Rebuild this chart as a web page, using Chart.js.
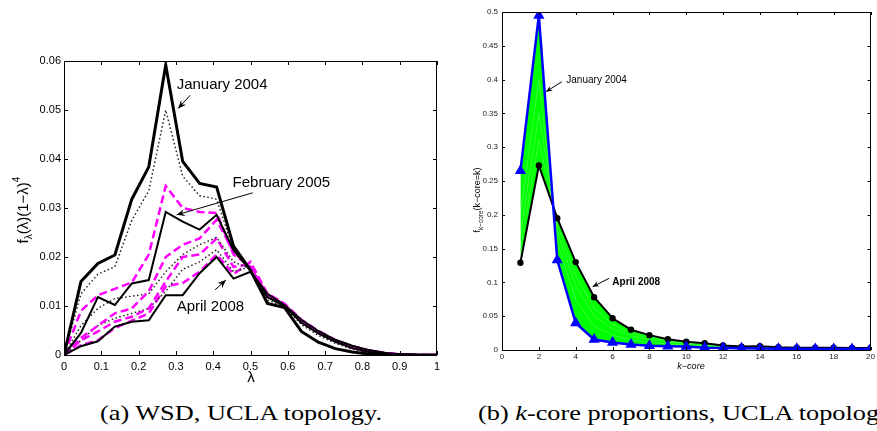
<!DOCTYPE html>
<html>
<head>
<meta charset="utf-8">
<script src="https://cdn.jsdelivr.net/npm/chart.js@4.4.0/dist/chart.umd.min.js"></script>
<style>
  html, body { margin: 0; padding: 0; background: #fff; }
  body { width: 877px; height: 431px; position: relative; overflow: hidden; }
  .box { position: absolute; }
  #boxA { left: 0; top: 0; width: 450px; height: 395px; }
  #boxB { left: 455px; top: 0; width: 422px; height: 395px; }
  .cap { position: absolute; font-family: 'Liberation Serif', 'Times New Roman', serif; font-size: 21px;
         white-space: nowrap; transform-origin: 0 50%; color: #000; line-height: 1; }
</style>
</head>
<body>
<div class="box" id="boxA"><canvas id="chartA"></canvas></div>
<div class="box" id="boxB"><canvas id="chartB"></canvas></div>
<div class="cap" id="capA">(a) WSD, <span id="uA">UCLA</span> topology.</div>
<div class="cap" id="capB">(b) <i>k</i>-core proportions, <span id="uB">UCLA</span> topology.</div>
<script>
// --- Data: (a) WSD ---
const lambdaVals = [0, 0.0455, 0.0909, 0.1364, 0.1818, 0.2273, 0.2727, 0.3182, 0.3636, 0.4091, 0.4545, 0.5,
                    0.5455, 0.5909, 0.6364, 0.6818, 0.7273, 0.7727, 0.8182, 0.8636, 0.9091, 0.9545, 1];
const wsdJan2004 = [0, 0.0150, 0.0187, 0.0204, 0.0318, 0.0384, 0.0592, 0.0395, 0.0350, 0.0343, 0.0222, 0.0173,
                    0.0105, 0.0097, 0.0048, 0.0026, 0.0013, 0.0006, 0.0002, 0.0001, 0, 0, 0];
const wsdFeb2005 = [0, 0.0045, 0.0118, 0.0102, 0.0146, 0.0153, 0.0292, 0.0272, 0.0256, 0.0286, 0.0214, 0.0172,
                    0.0118, 0.0100, 0.0066, 0.0044, 0.0027, 0.0014, 0.0006, 0.0002, 0.0001, 0, 0];
const wsdApr2008 = [0, 0.0018, 0.0028, 0.0058, 0.0068, 0.0071, 0.0122, 0.0122, 0.0167, 0.0200, 0.0156, 0.0170,
                    0.0125, 0.0102, 0.0072, 0.0049, 0.0031, 0.0019, 0.0010, 0.0004, 0.0001, 0, 0];
const wsdDot1 = [0, 0.0125, 0.0165, 0.0180, 0.0275, 0.0335, 0.0500, 0.0365, 0.0325, 0.0318, 0.0215, 0.0173,
                 0.0112, 0.0099, 0.0062, 0.0040, 0.0024, 0.0012, 0.0005, 0.0002, 0.0001, 0, 0];
const wsdDot2 = [0, 0.0060, 0.0095, 0.0115, 0.0120, 0.0125, 0.0170, 0.0205, 0.0225, 0.0240, 0.0190, 0.0176,
                 0.0120, 0.0101, 0.0068, 0.0046, 0.0029, 0.0016, 0.0008, 0.0003, 0.0001, 0, 0];
const wsdDot3 = [0, 0.0030, 0.0060, 0.0075, 0.0085, 0.0095, 0.0130, 0.0175, 0.0190, 0.0215, 0.0170, 0.0180,
                 0.0122, 0.0102, 0.0070, 0.0047, 0.0030, 0.0017, 0.0009, 0.0003, 0.0001, 0, 0];
const wsdMag1 = [0, 0.0090, 0.0122, 0.0135, 0.0148, 0.0205, 0.0345, 0.0300, 0.0292, 0.0290, 0.0205, 0.0180,
                 0.0121, 0.0102, 0.0068, 0.0045, 0.0028, 0.0015, 0.0007, 0.0003, 0.0001, 0, 0];
const wsdMag2 = [0, 0.0035, 0.0060, 0.0085, 0.0095, 0.0130, 0.0200, 0.0225, 0.0238, 0.0276, 0.0210, 0.0178,
                 0.0123, 0.0103, 0.0069, 0.0046, 0.0029, 0.0016, 0.0008, 0.0003, 0.0001, 0, 0];
const wsdMag3 = [0, 0.0030, 0.0048, 0.0068, 0.0078, 0.0095, 0.0150, 0.0200, 0.0205, 0.0238, 0.0180, 0.0185,
                 0.0124, 0.0104, 0.0071, 0.0048, 0.0030, 0.0017, 0.0009, 0.0003, 0.0001, 0, 0];
const wsdMag4 = [0, 0.0020, 0.0030, 0.0055, 0.0070, 0.0085, 0.0140, 0.0147, 0.0170, 0.0205, 0.0165, 0.0190,
                 0.0125, 0.0105, 0.0072, 0.0049, 0.0031, 0.0018, 0.0009, 0.0004, 0.0001, 0, 0];

// --- Data: (b) k-core proportions ---
const kVals = [1, 2, 3, 4, 5, 6, 7, 8, 9, 10, 11, 12, 13, 14, 15, 16, 17, 18, 19, 20];
const kcoreJan2004 = [0.265, 0.495, 0.133, 0.040, 0.0155, 0.0112, 0.0082, 0.0063, 0.0055, 0.0050,
                      0.0035, 0.0030, 0.0025, 0.0022, 0.0020, 0.0018, 0.0016, 0.0015, 0.0014, 0.0013];
const kcoreApr2008 = [0.129, 0.273, 0.195, 0.130, 0.078, 0.047, 0.030, 0.022, 0.016, 0.0123,
                      0.0099, 0.0066, 0.0050, 0.0055, 0.0040, 0.0035, 0.0035, 0.0033, 0.0030, 0.0030];
const kcoreMid1 = [0.20, 0.40, 0.16, 0.075, 0.035, 0.022, 0.015, 0.011, 0.009, 0.008,
                   0.0065, 0.005, 0.004, 0.004, 0.003, 0.003, 0.0025, 0.0025, 0.0022, 0.002];
const kcoreMid2 = [0.17, 0.35, 0.175, 0.095, 0.050, 0.031, 0.021, 0.015, 0.012, 0.010,
                   0.008, 0.0055, 0.0045, 0.0045, 0.0035, 0.003, 0.003, 0.003, 0.0025, 0.0025];
const kcoreMid3 = [0.15, 0.31, 0.185, 0.110, 0.062, 0.038, 0.025, 0.018, 0.014, 0.011,
                   0.009, 0.006, 0.0048, 0.005, 0.0038, 0.0032, 0.0032, 0.003, 0.0028, 0.0028];

// --- Annotations (data coordinates) ---
const notesA = [
  { text: 'January 2004', x: 0.302, y: 0.0552, tail: [0.338, 0.0530], head: [0.306, 0.0503] },
  { text: 'February 2005', x: 0.452, y: 0.0352, tail: [0.506, 0.0331], head: [0.302, 0.0286] },
  { text: 'April 2008', x: 0.302, y: 0.0099, tail: [0.405, 0.0133], head: [0.434, 0.0153] }
];
const notesB = [
  { text: 'January 2004', x: 3.49, y: 0.3994, tail: [3.25, 0.3969], head: [2.39, 0.3821] },
  { text: 'April 2008', x: 5.99, y: 0.1001, tail: [5.81, 0.106], head: [4.92, 0.0936], bold: true }
];

const SANS = "'Liberation Sans', Arial, Helvetica, sans-serif";
const numLabel = v => String(+Number(v).toFixed(3));

function wsdLine(vals, color, width, dash) {
  return {
    data: lambdaVals.map((x, i) => ({ x: x, y: vals[i] })),
    borderColor: color, borderWidth: width, borderDash: dash || [],
    pointRadius: 0, tension: 0, fill: false
  };
}
function kLine(vals, extra) {
  return Object.assign({ data: kVals.map((k, i) => ({ x: k, y: vals[i] })), tension: 0 }, extra);
}

// draw a row of text pieces (for sub/superscripts), centred at cx, optionally rotated
function drawRuns(ctx, runs, cx, cy, rotate) {
  ctx.save();
  ctx.translate(cx, cy);
  if (rotate) ctx.rotate(-Math.PI / 2);
  let total = 0;
  runs.forEach(r => { ctx.font = r.font; total += ctx.measureText(r.t).width; });
  let x = -total / 2;
  ctx.textBaseline = 'alphabetic';
  ctx.fillStyle = '#000';
  runs.forEach(r => { ctx.font = r.font; ctx.fillText(r.t, x, r.dy || 0); x += ctx.measureText(r.t).width; });
  ctx.restore();
}

function framePlugin(opt) {
  return {
    id: 'frame' + opt.name,
    afterDraw(chart) {
      const { ctx, chartArea: a, scales } = chart;
      const L = opt.tickLen;
      ctx.save();
      ctx.strokeStyle = '#000';
      ctx.lineWidth = 1;
      ctx.strokeRect(Math.round(a.left) + 0.5, Math.round(a.top) + 0.5,
                     Math.round(a.right - a.left) - 1, Math.round(a.bottom - a.top));
      ctx.beginPath();
      scales.x.ticks.forEach(t => {
        const px = Math.round(scales.x.getPixelForValue(t.value)) + 0.5;
        ctx.moveTo(px, a.bottom); ctx.lineTo(px, a.bottom - L);
        ctx.moveTo(px, a.top); ctx.lineTo(px, a.top + L);
      });
      scales.y.ticks.forEach(t => {
        const py = Math.round(scales.y.getPixelForValue(t.value)) + 0.5;
        ctx.moveTo(a.left, py); ctx.lineTo(a.left + L, py);
        ctx.moveTo(a.right, py); ctx.lineTo(a.right - L, py);
      });
      ctx.stroke();

      // annotations with arrows
      opt.notes.forEach(n => {
        const tx = scales.x.getPixelForValue(n.x), ty = scales.y.getPixelForValue(n.y);
        ctx.font = (n.bold ? 'bold ' : '') + opt.noteFont + 'px ' + SANS;
        ctx.fillStyle = '#000';
        ctx.textAlign = 'left';
        ctx.textBaseline = 'middle';
        ctx.fillText(n.text, tx, ty);
        const x1 = scales.x.getPixelForValue(n.tail[0]), y1 = scales.y.getPixelForValue(n.tail[1]);
        const x2 = scales.x.getPixelForValue(n.head[0]), y2 = scales.y.getPixelForValue(n.head[1]);
        const ang = Math.atan2(y2 - y1, x2 - x1);
        const hl = opt.headLen;
        ctx.beginPath();
        ctx.lineWidth = 1;
        ctx.moveTo(x1, y1); ctx.lineTo(x2, y2);
        ctx.stroke();
        ctx.beginPath();
        ctx.moveTo(x2, y2);
        ctx.lineTo(x2 - hl * Math.cos(ang - 0.4), y2 - hl * Math.sin(ang - 0.4));
        ctx.lineTo(x2 - hl * 0.6 * Math.cos(ang), y2 - hl * 0.6 * Math.sin(ang));
        ctx.lineTo(x2 - hl * Math.cos(ang + 0.4), y2 - hl * Math.sin(ang + 0.4));
        ctx.closePath();
        ctx.fillStyle = '#000';
        ctx.fill();
      });

      opt.titles(ctx);
      ctx.restore();
    }
  };
}

// --- Chart (a) ---
new Chart(document.getElementById('chartA'), {
  type: 'line',
  data: {
    datasets: [
      wsdLine(wsdJan2004, '#000', 3),
      wsdLine(wsdFeb2005, '#000', 2),
      wsdLine(wsdApr2008, '#000', 2),
      wsdLine(wsdMag1, '#ff00ff', 2.5, [8, 4]),
      wsdLine(wsdDot1, '#222', 1.5, [1.5, 2.5]),
      wsdLine(wsdMag2, '#ff00ff', 2.5, [8, 4]),
      wsdLine(wsdDot2, '#222', 1.5, [1.5, 2.5]),
      wsdLine(wsdMag3, '#ff00ff', 2.5, [8, 4]),
      wsdLine(wsdDot3, '#222', 1.5, [1.5, 2.5]),
      wsdLine(wsdMag4, '#ff00ff', 2.5, [8, 4])
    ]
  },
  options: {
    responsive: true,
    maintainAspectRatio: false,
    animation: false,
    layout: { padding: { left: 0, right: 13, top: 61, bottom: 0 } },
    plugins: { legend: { display: false }, tooltip: { enabled: false } },
    scales: {
      x: {
        type: 'linear', min: 0, max: 1,
        ticks: { stepSize: 0.1, padding: 5, color: '#000', font: { family: SANS, size: 11 }, callback: numLabel, maxRotation: 0 },
        grid: { display: false, drawTicks: false }, border: { display: false },
        afterFit: s => { s.height = 40; }
      },
      y: {
        type: 'linear', min: 0, max: 0.06,
        ticks: { stepSize: 0.01, padding: 3, color: '#000', font: { family: SANS, size: 11 }, callback: numLabel },
        grid: { display: false, drawTicks: false }, border: { display: false },
        afterFit: s => { s.width = 64; }
      }
    }
  },
  plugins: [framePlugin({
    name: 'A', tickLen: 4, notes: notesA, noteFont: 15, headLen: 9,
    titles: ctx => {
      drawRuns(ctx, [{ t: 'λ', font: '15px ' + SANS }], 251, 382, false);
      drawRuns(ctx, [
        { t: 'f', font: '15px ' + SANS },
        { t: 'λ', font: '10px ' + SANS, dy: 4 },
        { t: '(λ)(1−λ)', font: '15px ' + SANS },
        { t: '4', font: '10px ' + SANS, dy: -8 }
      ], 28, 210, true);
    }
  })]
});

// --- Chart (b) ---
const paleLine = 'rgba(225,255,225,0.35)';
new Chart(document.getElementById('chartB'), {
  type: 'line',
  data: {
    datasets: [
      kLine(kcoreJan2004, { borderColor: '#0000ff', borderWidth: 2.5, pointStyle: 'triangle', pointRadius: 4,
                            pointBackgroundColor: '#0000ff', pointBorderColor: '#0000ff', fill: false }),
      kLine(kcoreApr2008, { borderColor: '#000', borderWidth: 2, pointStyle: 'circle', pointRadius: 2.2,
                            pointBackgroundColor: '#000', pointBorderColor: '#000',
                            fill: '-1', backgroundColor: '#00ff00' }),
      kLine(kcoreMid1, { borderColor: paleLine, borderWidth: 0.7, pointRadius: 0, fill: false }),
      kLine(kcoreMid2, { borderColor: paleLine, borderWidth: 0.7, pointRadius: 0, fill: false }),
      kLine(kcoreMid3, { borderColor: paleLine, borderWidth: 0.7, pointRadius: 0, fill: false })
    ]
  },
  options: {
    responsive: true,
    maintainAspectRatio: false,
    animation: false,
    layout: { padding: { left: 0, right: 1, top: 12, bottom: 0 } },
    plugins: { legend: { display: false }, tooltip: { enabled: false }, filler: { drawTime: 'beforeDatasetsDraw' } },
    scales: {
      x: {
        type: 'linear', min: 0, max: 20,
        ticks: { stepSize: 2, padding: 2, color: '#222', font: { family: SANS, size: 8 }, callback: numLabel, maxRotation: 0 },
        grid: { display: false, drawTicks: false }, border: { display: false },
        afterFit: s => { s.height = 45; }
      },
      y: {
        type: 'linear', min: 0, max: 0.5,
        ticks: { stepSize: 0.05, padding: 4, color: '#222', font: { family: SANS, size: 8 }, callback: numLabel },
        grid: { display: false, drawTicks: false }, border: { display: false },
        afterFit: s => { s.width = 47; }
      }
    }
  },
  plugins: [framePlugin({
    name: 'B', tickLen: 3, notes: notesB, noteFont: 10, headLen: 7,
    titles: ctx => {
      drawRuns(ctx, [{ t: 'k−core', font: 'italic 9px ' + SANS }], 236, 369, false);
      drawRuns(ctx, [
        { t: 'f', font: '9px ' + SANS },
        { t: 'k−core', font: '6.5px ' + SANS, dy: 2.5 },
        { t: '(k−core=k)', font: '9px ' + SANS }
      ], 25, 200, true);
    }
  })]
});

// --- captions ---
const capA = document.getElementById('capA');
const capB = document.getElementById('capB');
const capScale = 282 / capA.getBoundingClientRect().width;
const uclaOffB = document.getElementById('uB').getBoundingClientRect().left - capB.getBoundingClientRect().left;
capA.style.left = '100px'; capA.style.top = '403px';
capB.style.left = (722 - uclaOffB * capScale) + 'px'; capB.style.top = '403px';
capA.style.transform = 'scaleX(' + capScale + ')';
capB.style.transform = 'scaleX(' + capScale + ')';
</script>
</body>
</html>
